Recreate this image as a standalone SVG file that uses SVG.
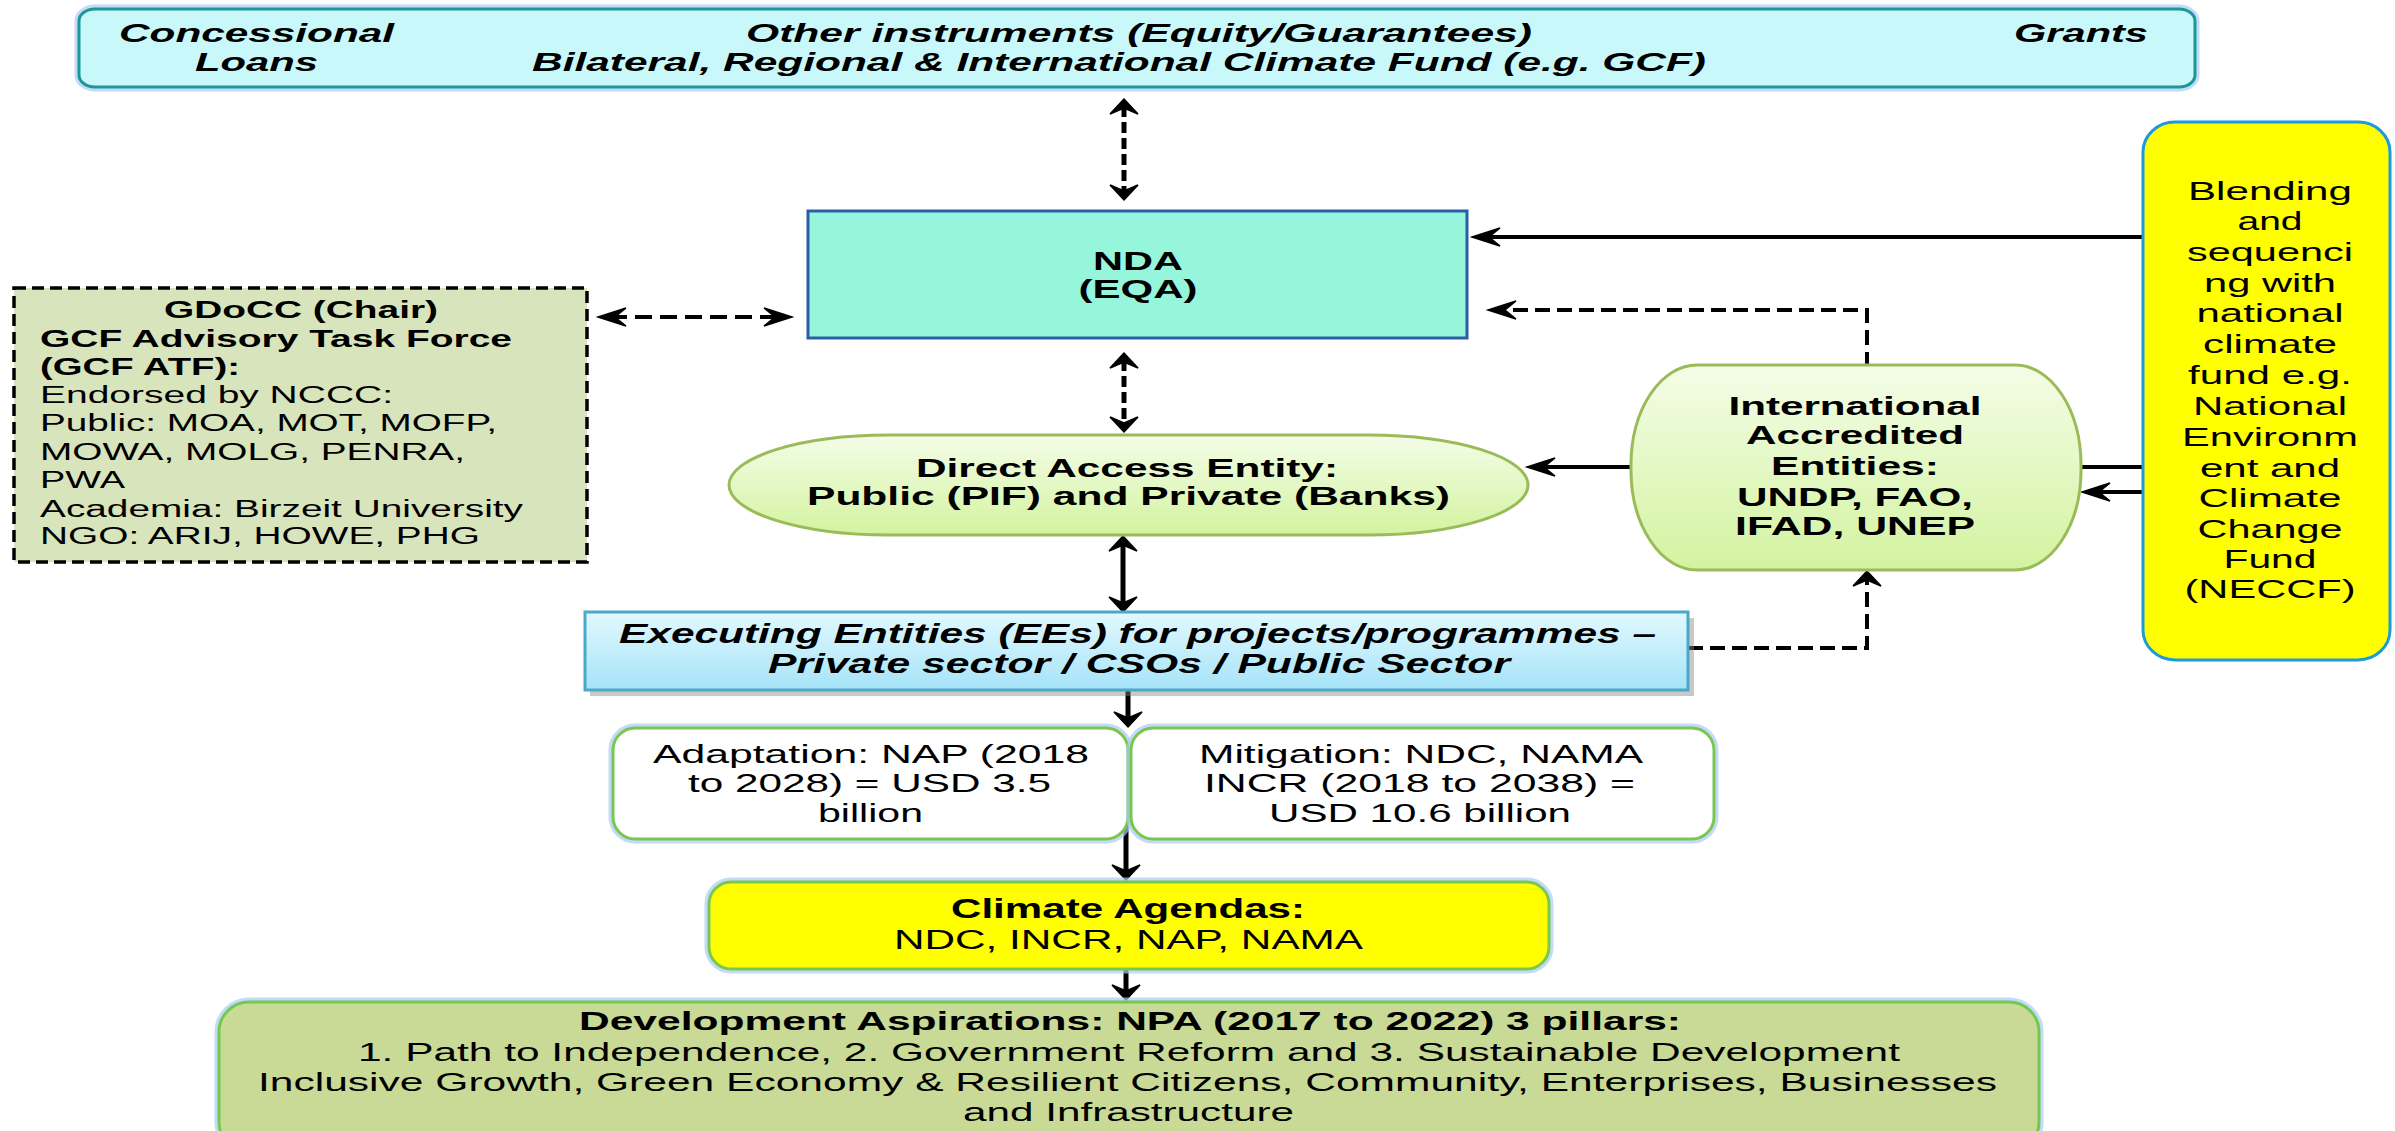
<svg xmlns="http://www.w3.org/2000/svg" width="2395" height="1131" viewBox="0 0 2395 1131">
<style>
text{font-family:"Liberation Sans",Arial,sans-serif;fill:#000}
.b{font-weight:bold}
.i{font-style:italic}
.c{text-anchor:middle}
.h{stroke:#000;stroke-width:4;fill:none}
.v{stroke:#000;stroke-width:5;fill:none}
.dh{stroke-dasharray:17 8}
.dv{stroke-dasharray:11 5}
.dp{stroke-dasharray:15 7}
.glow{fill:none;stroke:#a9cbf7;stroke-width:9;opacity:.7}
</style>
<defs>
<marker id="ahH" markerUnits="userSpaceOnUse" viewBox="-32 -12 36 24" refX="-12" refY="0" markerWidth="36" markerHeight="24" orient="auto-start-reverse">
<path d="M0,0 L-28,-9 L-17,0 L-28,9 Z" fill="#000" stroke="#000" stroke-width="1.5"/>
</marker>
<marker id="ahV" markerUnits="userSpaceOnUse" viewBox="-20 -18 24 36" refX="-7" refY="0" markerWidth="24" markerHeight="36" orient="auto-start-reverse">
<path d="M0,0 L-15,-14 L-9,0 L-15,14 Z" fill="#000" stroke="#000" stroke-width="1.5"/>
</marker>
<linearGradient id="gGreen" x1="0" y1="0" x2="0" y2="1">
<stop offset="0" stop-color="#f4fde8"/><stop offset="1" stop-color="#d3f3a0"/>
</linearGradient>
<linearGradient id="gBlue" x1="0" y1="0" x2="0" y2="1">
<stop offset="0" stop-color="#e2f9ff"/><stop offset="1" stop-color="#a6e3f8"/>
</linearGradient>
</defs>

<g id="connectors">
<line class="v dv" x1="1124" y1="106" x2="1124" y2="193" marker-start="url(#ahV)" marker-end="url(#ahV)"/>
<line class="h dh" x1="610" y1="317" x2="780" y2="317" marker-start="url(#ahH)" marker-end="url(#ahH)"/>
<line class="v dv" x1="1124" y1="360" x2="1124" y2="425" marker-start="url(#ahV)" marker-end="url(#ahV)"/>
<line class="v" x1="1123" y1="543" x2="1123" y2="605" marker-start="url(#ahV)" marker-end="url(#ahV)"/>
<line class="v" x1="1128" y1="690" x2="1128" y2="720" marker-end="url(#ahV)"/>
<line class="v" x1="1126" y1="822" x2="1126" y2="873" marker-end="url(#ahV)"/>
<line class="v" x1="1126" y1="970" x2="1126" y2="993" marker-end="url(#ahV)"/>
<line class="h" x1="2143" y1="237" x2="1484" y2="237" marker-end="url(#ahH)"/>
<polyline class="h dp" points="1867,367 1867,310 1500,310" marker-end="url(#ahH)"/>
<line class="h" x1="2143" y1="467" x2="1539" y2="467" marker-end="url(#ahH)"/>
<line class="h" x1="2143" y1="492" x2="2094" y2="492" marker-end="url(#ahH)"/>
<polyline class="h dp" points="1688,648 1867,648 1867,578" marker-end="url(#ahV)"/>
</g>

<g id="top-box">
<rect class="glow" x="79" y="9" width="2116" height="78" rx="16" ry="12"/>
<rect x="79" y="9" width="2116" height="78" rx="16" ry="12" fill="#c9f8fb" stroke="#1b9796" stroke-width="3"/>
<text class="b i" font-size="26" x="119" y="42" textLength="275" lengthAdjust="spacingAndGlyphs">Concessional</text>
<text class="b i" font-size="26" x="195" y="71" textLength="123" lengthAdjust="spacingAndGlyphs">Loans</text>
<text class="b i" font-size="26" x="746" y="42" textLength="786" lengthAdjust="spacingAndGlyphs">Other instruments (Equity/Guarantees)</text>
<text class="b i" font-size="26" x="532" y="71" textLength="1174" lengthAdjust="spacingAndGlyphs">Bilateral, Regional &amp; International Climate Fund (e.g. GCF)</text>
<text class="b i" font-size="26" x="2014" y="42" textLength="134" lengthAdjust="spacingAndGlyphs">Grants</text>
</g>

<g id="nda">
<rect x="808" y="211" width="659" height="127" fill="#96f6dc" stroke="#2a5ea8" stroke-width="3"/>
<text class="b c" font-size="26" x="1138" y="270" textLength="90" lengthAdjust="spacingAndGlyphs">NDA</text>
<text class="b c" font-size="26" x="1138" y="298" textLength="119" lengthAdjust="spacingAndGlyphs">(EQA)</text>
</g>

<g id="gdocc">
<rect x="14" y="288" width="573" height="274" fill="#d8e4bc" stroke="#000" stroke-width="3.5" stroke-dasharray="12 6"/>
<text class="b" font-size="23" x="164" y="318" textLength="274" lengthAdjust="spacingAndGlyphs">GDoCC (Chair)</text>
<text class="b" font-size="23" x="40" y="347" textLength="472" lengthAdjust="spacingAndGlyphs">GCF Advisory Task Force</text>
<text class="b" font-size="23" x="40" y="375" textLength="200" lengthAdjust="spacingAndGlyphs">(GCF ATF):</text>
<text font-size="23" x="40" y="403" textLength="353" lengthAdjust="spacingAndGlyphs">Endorsed by NCCC:</text>
<text font-size="23" x="40" y="431" textLength="457" lengthAdjust="spacingAndGlyphs">Public: MOA, MOT, MOFP,</text>
<text font-size="23" x="40" y="460" textLength="425" lengthAdjust="spacingAndGlyphs">MOWA, MOLG, PENRA,</text>
<text font-size="23" x="40" y="488" textLength="85" lengthAdjust="spacingAndGlyphs">PWA</text>
<text font-size="23" x="40" y="517" textLength="483" lengthAdjust="spacingAndGlyphs">Academia: Birzeit University</text>
<text font-size="23" x="40" y="544" textLength="440" lengthAdjust="spacingAndGlyphs">NGO: ARIJ, HOWE, PHG</text>
</g>

<g id="dae">
<rect x="729" y="435" width="799" height="100" rx="160" ry="50" fill="url(#gGreen)" stroke="#9bbb59" stroke-width="3"/>
<text class="b" font-size="25" x="916" y="477" textLength="422" lengthAdjust="spacingAndGlyphs">Direct Access Entity:</text>
<text class="b" font-size="25" x="807" y="505" textLength="643" lengthAdjust="spacingAndGlyphs">Public (PIF) and Private (Banks)</text>
</g>

<g id="iae">
<rect x="1631" y="365" width="450" height="205" rx="66" ry="100" fill="url(#gGreen)" stroke="#9bbb59" stroke-width="3"/>
<text class="b c" font-size="26" x="1855" y="415" textLength="253" lengthAdjust="spacingAndGlyphs">International</text>
<text class="b c" font-size="26" x="1855" y="444" textLength="218" lengthAdjust="spacingAndGlyphs">Accredited</text>
<text class="b c" font-size="26" x="1855" y="475" textLength="168" lengthAdjust="spacingAndGlyphs">Entities:</text>
<text class="b c" font-size="26" x="1855" y="506" textLength="236" lengthAdjust="spacingAndGlyphs">UNDP, FAO,</text>
<text class="b c" font-size="26" x="1855" y="535" textLength="240" lengthAdjust="spacingAndGlyphs">IFAD, UNEP</text>
</g>

<g id="blending">
<rect x="2143" y="122" width="247" height="538" rx="32" ry="30" fill="#ffff00" stroke="#1f9ad8" stroke-width="3"/>
<text class="c" font-size="26" x="2270" y="200" textLength="164" lengthAdjust="spacingAndGlyphs">Blending</text>
<text class="c" font-size="26" x="2270" y="230" textLength="65" lengthAdjust="spacingAndGlyphs">and</text>
<text class="c" font-size="26" x="2270" y="261" textLength="166" lengthAdjust="spacingAndGlyphs">sequenci</text>
<text class="c" font-size="26" x="2270" y="292" textLength="132" lengthAdjust="spacingAndGlyphs">ng with</text>
<text class="c" font-size="26" x="2270" y="322" textLength="147" lengthAdjust="spacingAndGlyphs">national</text>
<text class="c" font-size="26" x="2270" y="353" textLength="134" lengthAdjust="spacingAndGlyphs">climate</text>
<text class="c" font-size="26" x="2270" y="384" textLength="164" lengthAdjust="spacingAndGlyphs">fund e.g.</text>
<text class="c" font-size="26" x="2270" y="415" textLength="154" lengthAdjust="spacingAndGlyphs">National</text>
<text class="c" font-size="26" x="2270" y="446" textLength="176" lengthAdjust="spacingAndGlyphs">Environm</text>
<text class="c" font-size="26" x="2270" y="477" textLength="140" lengthAdjust="spacingAndGlyphs">ent and</text>
<text class="c" font-size="26" x="2270" y="507" textLength="143" lengthAdjust="spacingAndGlyphs">Climate</text>
<text class="c" font-size="26" x="2270" y="538" textLength="145" lengthAdjust="spacingAndGlyphs">Change</text>
<text class="c" font-size="26" x="2270" y="568" textLength="93" lengthAdjust="spacingAndGlyphs">Fund</text>
<text class="c" font-size="26" x="2270" y="598" textLength="171" lengthAdjust="spacingAndGlyphs">(NECCF)</text>
</g>

<g id="ees">
<rect x="590" y="618" width="1104" height="78" fill="#888" opacity=".45"/>
<rect x="585" y="612" width="1103" height="78" fill="url(#gBlue)" stroke="#4aa8c8" stroke-width="3"/>
<text class="b i" font-size="27" x="619" y="643" textLength="1037" lengthAdjust="spacingAndGlyphs">Executing Entities (EEs) for projects/programmes –</text>
<text class="b i" font-size="27" x="768" y="673" textLength="742" lengthAdjust="spacingAndGlyphs">Private sector / CSOs / Public Sector</text>
</g>

<g id="adaptation">
<rect class="glow" x="613" y="728" width="515" height="111" rx="22"/>
<rect x="613" y="728" width="515" height="111" rx="22" fill="#fff" stroke="#78c850" stroke-width="3"/>
<text font-size="26" x="653" y="763" textLength="436" lengthAdjust="spacingAndGlyphs">Adaptation: NAP (2018</text>
<text font-size="26" x="688" y="792" textLength="363" lengthAdjust="spacingAndGlyphs">to 2028) = USD 3.5</text>
<text font-size="26" x="818" y="822" textLength="105" lengthAdjust="spacingAndGlyphs">billion</text>
</g>

<g id="mitigation">
<rect class="glow" x="1131" y="728" width="583" height="111" rx="22"/>
<rect x="1131" y="728" width="583" height="111" rx="22" fill="#fff" stroke="#78c850" stroke-width="3"/>
<text font-size="26" x="1199" y="763" textLength="444" lengthAdjust="spacingAndGlyphs">Mitigation: NDC, NAMA</text>
<text font-size="26" x="1204" y="792" textLength="431" lengthAdjust="spacingAndGlyphs">INCR (2018 to 2038) =</text>
<text font-size="26" x="1269" y="822" textLength="302" lengthAdjust="spacingAndGlyphs">USD 10.6 billion</text>
</g>

<g id="climate-agendas">
<rect class="glow" x="709" y="882" width="840" height="87" rx="22"/>
<rect x="709" y="882" width="840" height="87" rx="22" fill="#ffff00" stroke="#78c850" stroke-width="3"/>
<text class="b" font-size="27" x="951" y="918" textLength="354" lengthAdjust="spacingAndGlyphs">Climate Agendas:</text>
<text font-size="27" x="894" y="949" textLength="469" lengthAdjust="spacingAndGlyphs">NDC, INCR, NAP, NAMA</text>
</g>

<g id="development">
<rect class="glow" x="219" y="1002" width="1820" height="150" rx="30"/>
<rect x="219" y="1002" width="1820" height="150" rx="30" fill="#c9da96" stroke="#72c850" stroke-width="3"/>
<text class="b" font-size="26" x="579" y="1030" textLength="1102" lengthAdjust="spacingAndGlyphs">Development Aspirations: NPA (2017 to 2022) 3 pillars:</text>
<text font-size="26" x="358" y="1061" textLength="1542" lengthAdjust="spacingAndGlyphs">1. Path to Independence, 2. Government Reform and 3. Sustainable Development</text>
<text font-size="26" x="258" y="1091" textLength="1739" lengthAdjust="spacingAndGlyphs">Inclusive Growth, Green Economy &amp; Resilient Citizens, Community, Enterprises, Businesses</text>
<text font-size="26" x="963" y="1121" textLength="331" lengthAdjust="spacingAndGlyphs">and Infrastructure</text>
</g>
</svg>
